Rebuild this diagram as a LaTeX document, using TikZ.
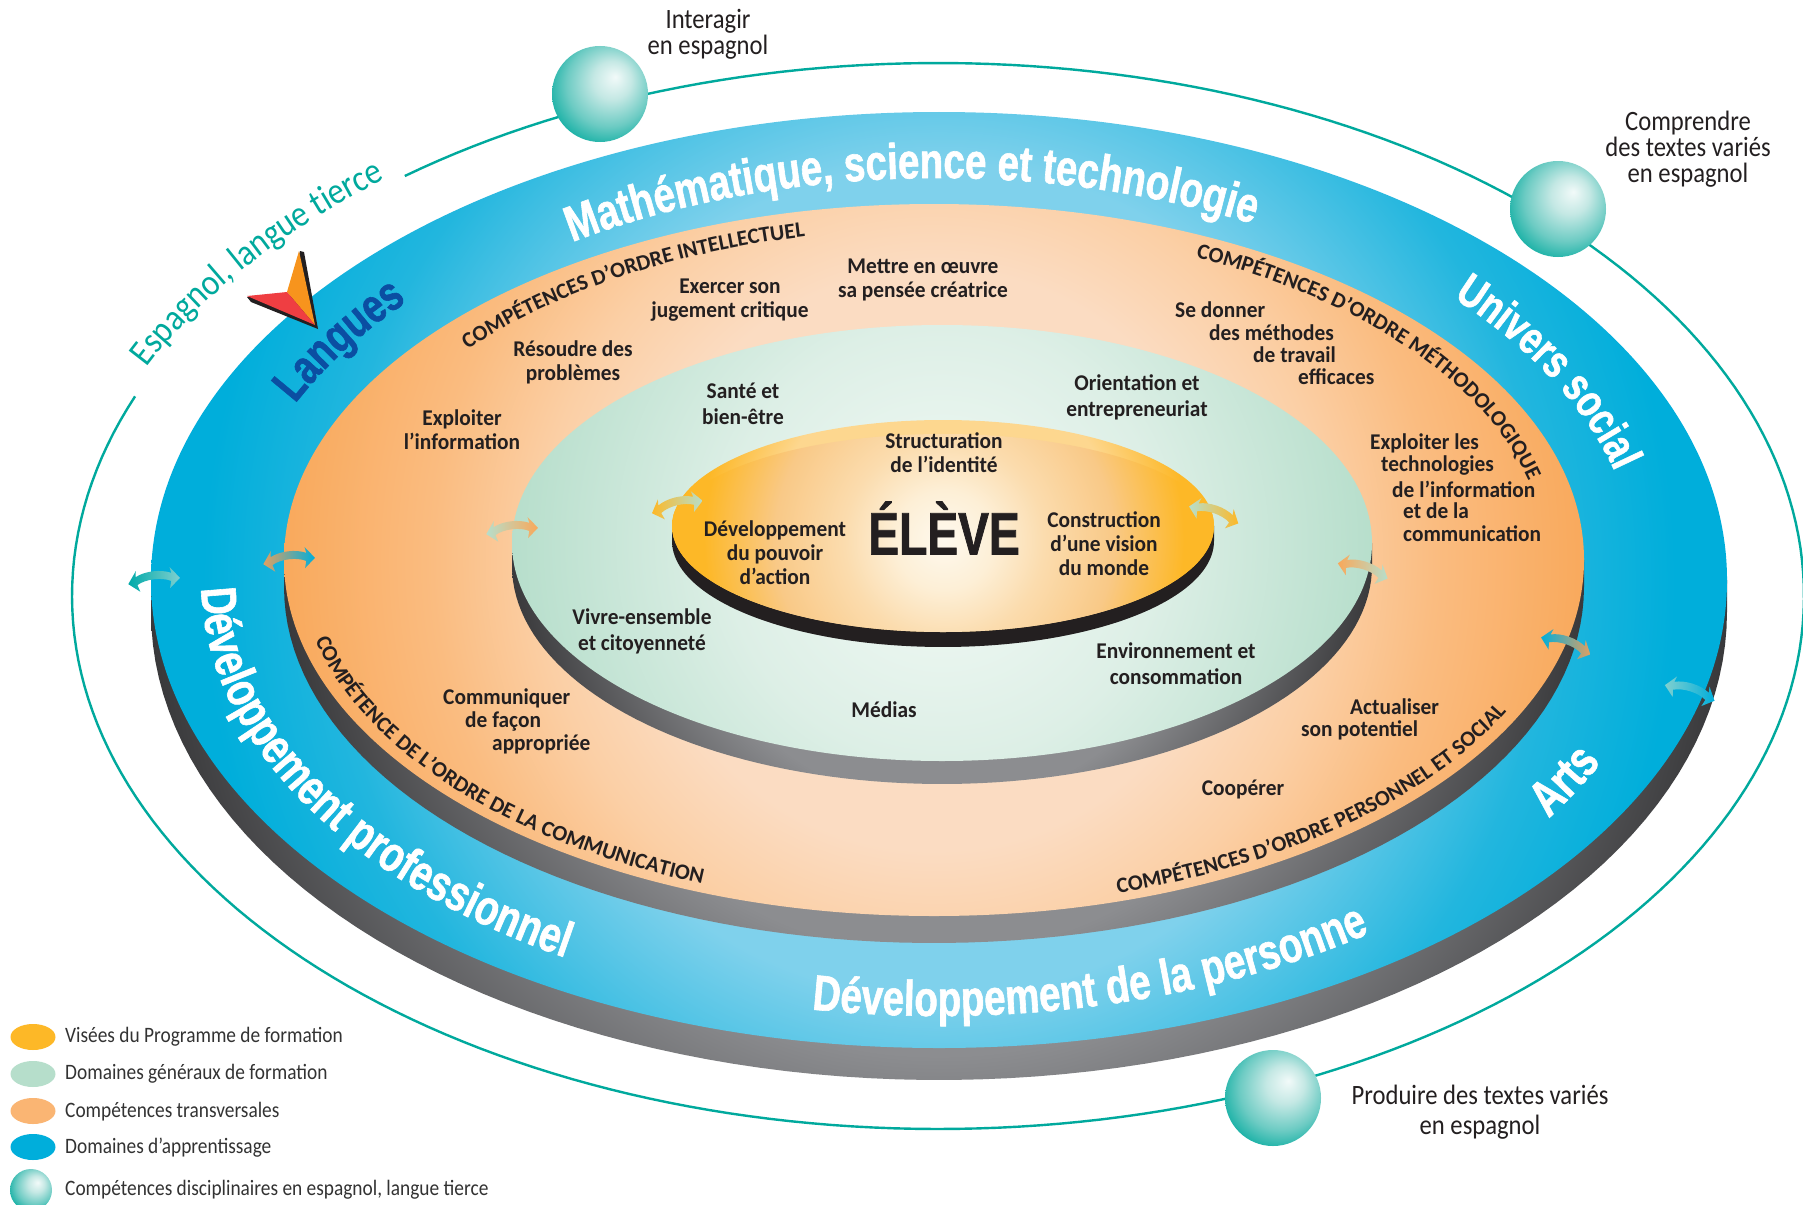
\documentclass[tikz,border=0pt]{standalone}
\usepackage{fontspec}
\usetikzlibrary{decorations.text}
\newfontfamily\flab[FakeStretch=0.95]{Carlito}
\newfontfamily\fout[FakeStretch=0.88]{Carlito}
\newfontfamily\fcap[FakeStretch=1.0]{Carlito}
\newfontfamily\fbig[FakeStretch=0.77,FakeBold=1.2]{Liberation Sans}
\definecolor{orbitc}{HTML}{00A99D}
\definecolor{txtc}{HTML}{231F20}
\definecolor{lgc}{HTML}{333333}
\definecolor{bl1}{HTML}{7FD1EC}\definecolor{bl2}{HTML}{22B6DE}\definecolor{bl3}{HTML}{00AEDB}
\definecolor{or1}{HTML}{FBDCC2}\definecolor{orb}{HTML}{FBCFA5}\definecolor{or2}{HTML}{FABC80}\definecolor{or3}{HTML}{F9A85A}
\definecolor{gr1}{HTML}{F3FAF6}\definecolor{gr2}{HTML}{DDEFE6}\definecolor{gr3}{HTML}{B6DECB}
\definecolor{ye0}{HTML}{FEF9EE}\definecolor{ye1}{HTML}{FDEFD6}\definecolor{ye2}{HTML}{FBDCAE}\definecolor{ye3}{HTML}{F9C987}\definecolor{ye4}{HTML}{FDB827}\definecolor{yr}{HTML}{FDD78F}
\definecolor{sh1}{HTML}{8C8D90}\definecolor{sh2}{HTML}{38383A}
\definecolor{sp1}{HTML}{F2FAF9}\definecolor{sp2}{HTML}{C4E8E4}\definecolor{sp3}{HTML}{6CCBC3}\definecolor{sp4}{HTML}{00A99D}
\definecolor{mkr}{HTML}{EF3E42}\definecolor{mko}{HTML}{F7941D}
\definecolor{lang}{HTML}{0B4EA2}
\pgfdeclareradialshading{blueS}{\pgfpoint{0bp}{0bp}}{color(0bp)=(bl1); color(13bp)=(bl1); color(19bp)=(bl2); color(23bp)=(bl3); color(50bp)=(bl3)}
\pgfdeclareradialshading{orS}{\pgfpoint{0bp}{0bp}}{color(0bp)=(or1); color(11bp)=(or1); color(15bp)=(orb); color(19bp)=(or2); color(25bp)=(or3); color(50bp)=(or3)}
\pgfdeclareradialshading{grS}{\pgfpoint{0bp}{0bp}}{color(0bp)=(gr1); color(12.5bp)=(gr2); color(25bp)=(gr3); color(50bp)=(gr3)}
\pgfdeclareradialshading{yrS}{\pgfpoint{0bp}{0bp}}{color(0bp)=(yr); color(15bp)=(yr); color(21bp)=(ye4); color(50bp)=(ye4)}
\pgfdeclareradialshading{yeS}{\pgfpoint{0bp}{0bp}}{color(0bp)=(ye0); color(4.3bp)=(ye1); color(8.6bp)=(ye2); color(14.6bp)=(ye3); color(20.7bp)=(ye4); color(50bp)=(ye4)}
\pgfdeclareradialshading{shS}{\pgfpoint{0bp}{0bp}}{color(0bp)=(sh1); color(15bp)=(sh1); color(25bp)=(sh2); color(50bp)=(sh2)}
\pgfdeclareradialshading{blkS}{\pgfpoint{0bp}{0bp}}{color(0bp)=(txtc); color(50bp)=(txtc)}
\pgfdeclareradialshading{sphS}{\pgfpoint{8bp}{9bp}}{color(0bp)=(sp1); color(10bp)=(sp2); color(22bp)=(sp3); color(33bp)=(sp4); color(50bp)=(sp4)}
\newcommand{\discshape}[9]{%
  \begin{scope}
    \clip (#1-#3,#2) -- plot[domain=180:0,samples=90,variable=\t] ({#1+#3*cos(\t)},{#2+#5+#4*sin(\t)}) -- (#1+#3,#2) -- cycle;
    \path[shading=#6] (#1,#2) circle[radius=#3+4];
  \end{scope}
  \begin{scope}
    \clip (#1,#2) ellipse[x radius=#3,y radius=#4];
    \path[shading=#9] (#7,#8) circle[radius=\discR];
  \end{scope}}
\newcommand{\curvetxt}[7]{\path[decorate,decoration={text along path,text={#7},text align=center}] plot[domain=#5:#6,samples=90,variable=\t] ({#1+#2*cos(\t)},{#3+#4*sin(\t)});}
\newcommand{\dblarrow}[6][]{%
  \begin{scope}[shift={(#2,#3)},rotate=#4]
    \path[left color=#5,right color=#6] (-26,1) -- (-17,-11) -- (-18,-5) .. controls (-8,-10) and (8,-10) .. (18,-5) -- (17,-11) -- (26,1) -- (15,10) -- (17,3) .. controls (8,-2) and (-8,-2) .. (-17,3) -- (-15,10) -- cycle;
  \end{scope}}
\tikzset{
  lab/.style={font=\flab\bfseries\fontsize{22.5}{24}\selectfont,text=txtc,align=center,inner sep=0pt},
  labl/.style={lab,anchor=west},
  outl/.style={font=\fout\fontsize{28}{26}\selectfont,text=txtc,align=center,inner sep=0pt},
  leg/.style={font=\fout\fontsize{22}{24}\selectfont,text=lgc,anchor=west,inner sep=0pt},
  orbit/.style={draw=orbitc,line width=2.4pt},
  sphere/.style={shading=sphS}
}
\newcommand{\bigt}{\fbig\bfseries\fontsize{50}{52}\selectfont}
\newcommand{\bigs}{\fbig\bfseries\fontsize{46}{48}\selectfont}
\newcommand{\langt}{\fbig\bfseries\fontsize{48}{50}\selectfont}
\newcommand{\capt}{\fcap\bfseries\fontsize{22}{24}\selectfont\color{txtc}}
\newcommand{\tealt}{\fout\fontsize{37}{38}\selectfont\color{orbitc}}
\begin{document}
\begin{tikzpicture}[x=1pt,y=-1pt]
\useasboundingbox (0,0) rectangle (1803,1204);
\fill[white] (0,0) rectangle (1803,1204);
% orbit
\draw[orbit] plot[domain=232:562,samples=240,variable=\t] ({938+866*cos(\t)},{596+533*sin(\t)});
% discs
\def\discR{800}
\discshape{939}{580}{788}{468}{32}{shS}{939}{580}{blueS}
\def\discR{660}
\discshape{934}{560}{650}{356}{27}{shS}{934}{560}{orS}
\def\discR{435}
\discshape{942}{543}{430}{218}{23}{shS}{942}{543}{grS}
\def\discR{290}
\discshape{943}{526}{271}{106}{15}{blkS}{944}{540}{yrS}
\begin{scope}
  \clip (943,526) ellipse[x radius=271,y radius=106];
  \clip (943,533) ellipse[x radius=275,y radius=99];
  \path[shading=yeS] (944,540) circle[radius=290];
\end{scope}
% spheres
\path[sphere] (600,94) circle[radius=48];
\path[sphere] (1558,209) circle[radius=48];
\path[sphere] (1273,1098) circle[radius=48];
% marker
\fill[txtc] (300,251) -- (304,252) -- (318,329) -- (251,302) -- (247,297) -- (290,295) -- cycle;
\fill[mko] (299,251) -- (315,325) -- (287,292) -- cycle;
\fill[mkr] (247,296) -- (287,292) -- (315,325) -- cycle;
% double arrows
\dblarrow{154}{580}{7}{orbitc!80!bl3}{gr3!70!bl3}
\dblarrow{289}{560}{7}{or3!80!gray}{bl3}
\dblarrow{512}{530}{7}{gr3}{or3}
\dblarrow{677}{506}{14}{ye4}{gr3}
\dblarrow{1214}{514}{-19}{gr3}{ye4}
\dblarrow{1363}{570}{-17}{or3}{gr3}
\dblarrow{1566}{645}{-19}{bl3}{or3!80!gray}
\dblarrow{1690}{692}{-17.5}{gr3!70!bl3}{bl3}
% big curved labels
\curvetxt{939}{677}{580}{402}{227}{307.5}{|\bigt\color{white}|Mathématique, science et technologie}
\curvetxt{939}{700}{580}{416}{312}{352}{|\bigs\color{white}|Univers social}
\curvetxt{939}{730}{580}{433}{41}{16}{|\bigt\color{white}|Arts}
\curvetxt{939}{735}{580}{436}{108.4}{44.4}{|\bigt\color{white}|Développement de la personne}
\curvetxt{939}{738}{580}{438}{192}{112}{|\bigt\color{white}|Développement professionnel}
\curvetxt{939}{709}{580}{421}{194.5}{229.5}{|\langt\color{lang}|Langues}
% captions
\curvetxt{934}{604}{560}{331}{208}{266}{|\capt|COMPÉTENCES D’ORDRE INTELLECTUEL}
\curvetxt{934}{612}{560}{335}{289}{357}{|\capt|COMPÉTENCES D’ORDRE MÉTHODOLOGIQUE}
\curvetxt{934}{636}{560}{348}{80.4}{14.4}{|\capt|COMPÉTENCES D’ORDRE PERSONNEL ET SOCIAL}
\curvetxt{934}{636}{560}{348}{178.5}{104.5}{|\capt|COMPÉTENCE DE L’ORDRE DE LA COMMUNICATION}
% teal
\curvetxt{938}{874}{596}{538}{197}{237}{|\tealt|Espagnol, langue tierce}
% outer labels
\node[outl] (a1) at (708,34) {Interagir\\en espagnol};
\node[outl] (a2) at (1688,149) {Comprendre\\des textes variés\\en espagnol};
\node[outl] (a3) at (1480,1112) {Produire des textes variés\\[4pt]en espagnol};
% inner labels
\node[lab] (b1) at (923,280) {Mettre en œuvre\\sa pensée créatrice};
\node[lab] (b2) at (730,300) {Exercer son\\jugement critique};
\node[lab] (b3) at (573,362) {Résoudre des\\problèmes};
\node[lab] (b4) at (462,430) {Exploiter\\l’information};
\node[lab] (b5) at (743,404) {Santé et\\[2pt]bien-être};
\node[lab] (b6) at (1137,397) {Orientation et\\[2pt]entrepreneuriat};
\node[lab] (b7) at (944,453) {Structuration\\de l’identité};
\node[lab] (b8) at (775,553) {Développement\\du pouvoir\\d’action};
\node[font=\fbig\bfseries\fontsize{60}{60}\selectfont,text=txtc,inner sep=0pt] (eleve) at (944,528) {ÉLÈVE};
\node[lab] (b9) at (1104,544) {Construction\\d’une vision\\du monde};
\node[lab] (b10) at (642,631) {Vivre-ensemble\\[2pt]et citoyenneté};
\node[lab] (b11) at (1176,664) {Environnement et\\[2pt]consommation};
\node[lab] (b12) at (884,710) {Médias};
\node[lab] (b13) at (1243,789) {Coopérer};
\node[labl] (c1) at (443,698) {Communiquer};
\node[labl] (c2) at (465,721) {de façon};
\node[labl] (c3) at (492,744) {appropriée};
\node[labl] (d1) at (1175,310) {Se donner};
\node[labl] (d2) at (1209,333) {des méthodes};
\node[labl] (d3) at (1253,355) {de travail};
\node[labl] (d4) at (1298,377) {efficaces};
\node[labl] (e1) at (1370,443) {Exploiter les};
\node[labl] (e2) at (1381,466) {technologies};
\node[labl] (e3) at (1392,489) {de l’information};
\node[labl] (e4) at (1403,511) {et de la};
\node[labl] (e5) at (1403,534) {communication};
\node[labl] (f1) at (1350,707) {Actualiser};
\node[labl] (f2) at (1301,730) {son potentiel};
% legend
\fill[ye4] (33,1037) ellipse[x radius=22.5,y radius=13];
\fill[gr3] (33,1074) ellipse[x radius=22.5,y radius=13];
\fill[or3!85!white] (33,1111) ellipse[x radius=22.5,y radius=13];
\fill[bl3] (33,1147) ellipse[x radius=22.5,y radius=13];
\path[sphere] (31,1190) circle[radius=21];
\node[leg] (l1) at (65,1037) {Visées du Programme de formation};
\node[leg] (l2) at (65,1074) {Domaines généraux de formation};
\node[leg] (l3) at (65,1112) {Compétences transversales};
\node[leg] (l4) at (65,1148) {Domaines d’apprentissage};
\node[leg] (l5) at (65,1190) {Compétences disciplinaires en espagnol, langue tierce};
\end{tikzpicture}
\end{document}
